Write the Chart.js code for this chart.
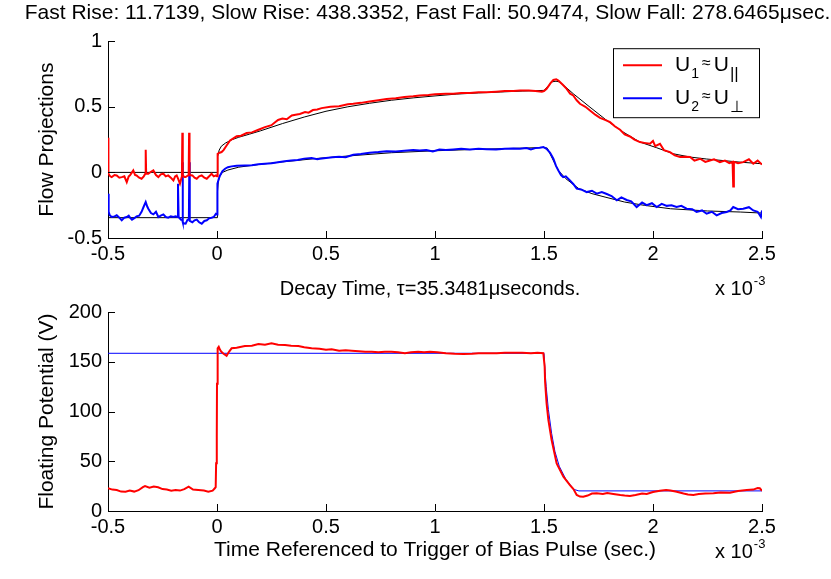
<!DOCTYPE html>
<html><head><meta charset="utf-8">
<script src="https://cdn.jsdelivr.net/npm/chart.js@4.4.0/dist/chart.umd.min.js"></script>
<style>
html,body{margin:0;padding:0;background:#fff;width:831px;height:579px;overflow:hidden;}
canvas{position:absolute;left:0;}
#c1{top:0}
#c2{top:265px}
</style></head><body>
<canvas id="c1" width="831" height="300"></canvas>
<canvas id="c2" width="831" height="314"></canvas>
<script>
// ---------- DATA ----------
const topTitle = 'Fast Rise: 11.7139, Slow Rise: 438.3352, Fast Fall: 50.9474, Slow Fall: 278.6465\u03bcsec.';
const bottomTitle = 'Decay Time, \u03c4=35.3481\u03bcseconds.';
const xTicks = [-0.5, 0, 0.5, 1, 1.5, 2, 2.5];
const yTicksTop = [-0.5, 0, 0.5, 1];
const yTicksBottom = [0, 50, 100, 150, 200];

// U1 ~ U_parallel (red)
const tU1 = [-0.5,-0.498,-0.49,-0.483,-0.47,-0.46,-0.448,-0.437,-0.425,-0.414,-0.405,-0.399,-0.39,-0.384,-0.376,-0.369,-0.357,-0.346,-0.336,-0.329,-0.327,-0.325,-0.315,-0.303,-0.292,-0.28,-0.269,-0.258,-0.246,-0.235,-0.224,-0.212,-0.2,-0.192,-0.185,-0.178,-0.17,-0.161,-0.159,-0.157,-0.15,-0.144,-0.13,-0.128,-0.126,-0.113,-0.103,-0.093,-0.082,-0.07,-0.058,-0.047,-0.036,-0.025,-0.015,-0.005,0,
 0.003,0.012,0.021,0.03,0.044,0.06,0.075,0.09,0.11,0.136,0.16,0.19,0.22,0.25,0.265,0.28,0.3,0.32,0.343,0.36,0.38,0.404,0.42,0.44,0.46,0.48,0.52,0.56,0.6,0.625,0.66,0.7,0.74,0.778,0.82,0.86,0.9,0.93,0.97,1.0,1.05,1.084,1.12,1.16,1.2,1.237,1.28,1.32,1.36,1.39,1.43,1.46,1.49,1.5,
 1.512,1.53,1.543,1.556,1.566,1.585,1.604,1.62,1.634,1.65,1.665,1.69,1.711,1.735,1.757,1.78,1.803,1.826,1.849,1.87,1.894,1.915,1.94,1.96,1.986,2.0,2.01,2.032,2.05,2.078,2.1,2.124,2.15,2.17,2.19,2.216,2.24,2.261,2.28,2.307,2.33,2.35,2.365,2.368,2.371,2.39,2.414,2.44,2.46,2.48,2.5];
const vU1 = [0.264,-0.01,-0.03,-0.036,-0.02,-0.023,-0.04,-0.036,-0.03,-0.074,-0.03,-0.023,0.0,0.015,-0.02,-0.023,-0.04,-0.048,-0.03,-0.01,0.173,-0.01,-0.01,0.005,0.015,-0.02,-0.036,-0.015,-0.01,-0.03,-0.023,-0.04,-0.061,-0.03,-0.023,-0.05,-0.086,-0.03,0.302,-0.02,-0.036,-0.036,-0.02,0.302,-0.02,-0.023,-0.04,-0.048,-0.03,-0.023,-0.04,-0.048,-0.03,-0.01,-0.03,-0.023,-0.03,
 0.142,0.15,0.155,0.17,0.205,0.244,0.26,0.275,0.28,0.3,0.305,0.325,0.345,0.36,0.38,0.4,0.41,0.405,0.434,0.44,0.445,0.46,0.455,0.475,0.48,0.49,0.5,0.505,0.52,0.523,0.53,0.54,0.55,0.56,0.565,0.575,0.58,0.586,0.59,0.595,0.6,0.6,0.605,0.605,0.61,0.61,0.615,0.62,0.62,0.624,0.625,0.62,0.615,0.62,
 0.637,0.68,0.705,0.71,0.7,0.67,0.637,0.6,0.586,0.55,0.523,0.5,0.472,0.44,0.416,0.4,0.383,0.35,0.325,0.29,0.274,0.25,0.231,0.225,0.218,0.24,0.2,0.218,0.17,0.155,0.13,0.117,0.12,0.117,0.09,0.104,0.08,0.091,0.1,0.078,0.09,0.07,0.08,-0.107,0.08,0.07,0.078,0.1,0.066,0.09,0.06];

// U2 ~ U_perp (blue)
const tU2 = [-0.5,-0.497,-0.492,-0.483,-0.47,-0.46,-0.448,-0.437,-0.425,-0.414,-0.405,-0.399,-0.39,-0.376,-0.369,-0.357,-0.346,-0.336,-0.327,-0.32,-0.315,-0.303,-0.292,-0.28,-0.269,-0.258,-0.246,-0.235,-0.224,-0.212,-0.2,-0.19,-0.182,-0.179,-0.176,-0.165,-0.16,-0.158,-0.156,-0.15,-0.144,-0.135,-0.129,-0.127,-0.125,-0.113,-0.103,-0.093,-0.082,-0.07,-0.058,-0.047,-0.036,-0.025,-0.015,-0.005,0,
 0.002,0.008,0.014,0.025,0.037,0.05,0.067,0.09,0.128,0.16,0.19,0.22,0.25,0.28,0.31,0.34,0.37,0.4,0.434,0.46,0.472,0.5,0.53,0.56,0.59,0.625,0.66,0.7,0.74,0.778,0.82,0.86,0.9,0.93,0.96,0.99,1.02,1.05,1.084,1.12,1.16,1.2,1.237,1.28,1.32,1.36,1.39,1.42,1.44,1.46,1.48,1.497,
 1.512,1.528,1.543,1.555,1.566,1.578,1.588,1.6,1.619,1.635,1.65,1.67,1.696,1.72,1.742,1.765,1.788,1.81,1.834,1.855,1.879,1.9,1.925,1.95,1.971,1.995,2.017,2.04,2.063,2.085,2.108,2.13,2.154,2.18,2.2,2.225,2.246,2.27,2.292,2.315,2.338,2.355,2.368,2.39,2.414,2.44,2.46,2.48,2.495,2.5];
const vU2 = [-0.162,-0.3,-0.327,-0.34,-0.335,-0.327,-0.345,-0.365,-0.345,-0.34,-0.33,-0.345,-0.36,-0.345,-0.335,-0.33,-0.301,-0.26,-0.226,-0.26,-0.277,-0.31,-0.32,-0.3,-0.34,-0.33,-0.32,-0.34,-0.345,-0.335,-0.34,-0.335,-0.34,-0.086,-0.34,-0.36,-0.36,0.078,-0.38,-0.39,-0.391,-0.36,-0.36,0.078,-0.37,-0.38,-0.365,-0.36,-0.38,-0.391,-0.37,-0.365,-0.35,-0.345,-0.34,-0.315,-0.32,
 -0.086,-0.05,-0.023,0.01,0.028,0.04,0.046,0.05,0.053,0.055,0.062,0.066,0.07,0.078,0.085,0.09,0.095,0.105,0.11,0.1,0.104,0.11,0.115,0.12,0.115,0.135,0.14,0.15,0.155,0.162,0.16,0.165,0.17,0.167,0.17,0.16,0.175,0.17,0.175,0.18,0.175,0.18,0.177,0.175,0.18,0.182,0.18,0.185,0.175,0.185,0.188,0.193,
 0.18,0.15,0.104,0.05,0.015,-0.02,-0.036,-0.03,-0.061,-0.09,-0.124,-0.13,-0.15,-0.14,-0.162,-0.15,-0.165,-0.18,-0.213,-0.19,-0.21,-0.22,-0.264,-0.23,-0.25,-0.235,-0.264,-0.24,-0.255,-0.25,-0.264,-0.255,-0.277,-0.28,-0.302,-0.29,-0.315,-0.3,-0.327,-0.31,-0.302,-0.29,-0.264,-0.28,-0.277,-0.265,-0.29,-0.3,-0.34,-0.29];

// fitted curves (black)
const tFit1 = [-0.5,0,0.003,0.01,0.02,0.04,0.07,0.1,0.15,0.2,0.3,0.4,0.5,0.6,0.7,0.8,0.9,1.0,1.1,1.2,1.3,1.4,1.5,1.52,1.535,1.555,1.57,1.6,1.634,1.711,1.788,1.864,1.94,2.017,2.093,2.17,2.246,2.4,2.5];
const vFit1 = [0,0,0.12,0.17,0.2,0.225,0.25,0.268,0.292,0.317,0.372,0.422,0.466,0.5,0.527,0.55,0.568,0.583,0.597,0.606,0.613,0.62,0.625,0.66,0.69,0.695,0.69,0.65,0.6,0.497,0.396,0.307,0.231,0.188,0.142,0.117,0.102,0.078,0.066];
const tFit2 = [-0.5,0,0.002,0.006,0.012,0.025,0.05,0.1,0.2,0.3,0.45,0.6,0.8,1.0,1.2,1.4,1.5,1.515,1.543,1.566,1.6,1.66,1.72,1.78,1.87,1.96,2.08,2.25,2.4,2.5];
const vFit2 = [-0.345,-0.345,-0.15,-0.07,-0.03,0.0,0.018,0.04,0.062,0.08,0.105,0.125,0.15,0.165,0.176,0.185,0.19,0.185,0.09,0.015,-0.048,-0.124,-0.162,-0.188,-0.226,-0.251,-0.277,-0.294,-0.302,-0.31];

// floating potential (red) and exponential fit (blue)
const tVf = [-0.5,-0.48,-0.46,-0.44,-0.42,-0.4,-0.38,-0.36,-0.34,-0.33,-0.31,-0.29,-0.27,-0.25,-0.23,-0.21,-0.19,-0.17,-0.15,-0.13,-0.11,-0.086,-0.06,-0.04,-0.02,-0.01,-0.006,-0.004,-0.001,0.0,0.003,0.008,0.014,0.02,0.03,0.044,0.055,0.067,0.09,0.128,0.16,0.19,0.22,0.25,0.28,0.312,0.34,0.373,0.4,0.434,0.47,0.5,0.526,0.56,0.59,0.618,0.65,0.68,0.71,0.74,0.77,0.8,0.83,0.862,0.89,0.923,0.95,0.977,1.01,1.05,1.09,1.13,1.17,1.2,1.24,1.283,1.32,1.36,1.4,1.44,1.47,1.497,1.503,1.505,1.512,1.52,1.535,1.558,1.589,1.619,1.635,1.65,1.665,1.68,1.7,1.72,1.742,1.77,1.79,1.818,1.85,1.87,1.894,1.92,1.95,1.971,2.0,2.032,2.06,2.08,2.109,2.14,2.16,2.185,2.21,2.24,2.277,2.31,2.353,2.39,2.43,2.46,2.48,2.49,2.5];
const vVf = [22.8,21.5,21,19.5,19.4,20.5,19.5,20.9,24,25.1,23.5,24.5,23.8,22,21.5,20.4,21,20.5,22,24.5,21.5,21,20.5,19.4,20.5,22.8,24,48,75,128,163.5,165,162,160,158,156,160,163.5,164,165.8,166,167.8,167,168.5,167,166.8,166,165.8,164.5,163.5,163,162,162.5,161,161.5,161.1,160.5,160,160.1,159.5,160,160.1,159.5,158.5,159.5,160,159.5,160.1,159.5,158.5,158,157.8,158,158.5,158.5,158.5,159,159.1,159,158.5,159,158.5,145,130,108,91.5,71.4,47.9,34.5,26.1,22,16.1,14.5,14.4,15.5,17.5,17.8,17,18,17.1,16,15.5,15.1,16,17.5,17.1,19,20.4,21,20.5,19.4,17.5,16.5,16.1,17,17.5,17.8,18.5,18.4,20,21,21.5,23,22.8,20.4];
const tVfFit = [-0.5,1.5,1.505,1.51,1.52,1.535,1.55,1.57,1.6,1.625,1.64,1.66,2.5];
const vVfFit = [158.5,158.5,140,125,102,78,60,45,32,25,21.5,20.2,20.2];

// ---------- RENDERING ----------
const FONT = "'Liberation Sans', Arial, Helvetica, sans-serif";
Chart.defaults.font.family = FONT;
Chart.defaults.font.size = 20;
Chart.defaults.color = '#000';
function pts(t, v) { return t.map((x, i) => ({x: x, y: v[i]})); }
function fmt(v) { return String(Math.round(v * 100) / 100); }
function setTicks(arr) { return s => { s.ticks = arr.map(v => ({value: v})); }; }
const lineDs = (label, t, v, color, w) => ({label, data: pts(t, v), borderColor: color, borderWidth: w, pointRadius: 0, tension: 0, fill: false});

const matlabPlugin = {
  id: 'matlab',
  afterDraw(chart, args, opts) {
    const {ctx, chartArea: a, scales} = chart;
    const x = scales.x, y = scales.y;
    ctx.save();
    ctx.strokeStyle = '#000'; ctx.lineWidth = 1;
    ctx.beginPath();
    x.ticks.forEach(t => { const px = Math.round(x.getPixelForValue(t.value)) + 0.5; ctx.moveTo(px, a.bottom); ctx.lineTo(px, a.bottom - 7); });
    y.ticks.forEach(t => { const py = Math.round(y.getPixelForValue(t.value)) + 0.5; ctx.moveTo(a.left, py); ctx.lineTo(a.left + 7, py); });
    ctx.stroke();
    // exponent label
    ctx.fillStyle = '#000';
    ctx.textAlign = 'left'; ctx.textBaseline = 'alphabetic';
    ctx.font = '20px ' + FONT;
    const ex = a.right - 47, ey = a.bottom + opts.expDy;
    ctx.fillText('x 10', ex, ey);
    const w = ctx.measureText('x 10').width;
    ctx.font = '13px ' + FONT;
    ctx.fillText('-3', ex + w + 1, ey - 10);
    if (opts.legend) {
      const L = a.right - 149, T = a.top + 7, W = 146, H = 69;
      ctx.fillStyle = '#fff'; ctx.fillRect(L, T, W, H);
      ctx.strokeStyle = '#000'; ctx.lineWidth = 1; ctx.strokeRect(L + 0.5, T + 0.5, W, H);
      const rows = [{c: '#ff0000', s: '1', p: '||'}, {c: '#0000ff', s: '2', p: '\u22a5'}];
      rows.forEach((r, i) => {
        const ly = T + 17 + i * 33;
        ctx.strokeStyle = r.c; ctx.lineWidth = 2;
        ctx.beginPath(); ctx.moveTo(L + 10, ly); ctx.lineTo(L + 49, ly); ctx.stroke();
        ctx.fillStyle = '#000';
        let cx = L + 62; const base = ly + 6;
        ctx.font = '21px ' + FONT; ctx.fillText('U', cx, base); cx += ctx.measureText('U').width + 1;
        ctx.font = '14px ' + FONT; ctx.fillText(r.s, cx, base + 7); cx += ctx.measureText(r.s).width + 3;
        ctx.font = '16px ' + FONT; ctx.fillText('\u2248', cx, base - 3); cx += ctx.measureText('\u2248').width + 3;
        ctx.font = '21px ' + FONT; ctx.fillText('U', cx, base); cx += ctx.measureText('U').width + 1;
        ctx.font = (r.p === '||' ? '17px ' : '16px ') + FONT; ctx.fillText(r.p, cx, base + 8);
      });
    }
    ctx.restore();
  }
};

const tickFont = {family: FONT, size: 20};
const labelFont = {family: FONT, size: 21};
function xScale(h, titleText) {
  const s = {type: 'linear', min: -0.5, max: 2.5, position: 'bottom',
    afterBuildTicks: setTicks(xTicks),
    ticks: {callback: fmt, padding: 4, font: tickFont, color: '#000', maxRotation: 0, autoSkip: false},
    grid: {display: false, drawTicks: false},
    border: {display: true, color: '#000', width: 1},
    afterFit: sc => { sc.height = h; }};
  if (titleText) s.title = {display: true, text: titleText, font: labelFont, color: '#000', padding: {top: 0, bottom: 16}};
  return s;
}
function yScale(min, max, ticks, titleText, padLeft) {
  return {type: 'linear', min, max, position: 'left',
    afterBuildTicks: setTicks(ticks),
    ticks: {callback: fmt, padding: 6, font: tickFont, color: '#000', autoSkip: false},
    grid: {display: false, drawTicks: false},
    border: {display: true, color: '#000', width: 1},
    title: {display: true, text: titleText, font: labelFont, color: '#000', padding: {top: 35 - padLeft, bottom: 0}},
    afterFit: sc => { sc.width = 108 - padLeft; }};
}
const rightPad = {position: 'right', display: true, ticks: {display: false}, grid: {display: false, drawTicks: false}, border: {display: false}, afterFit: sc => { sc.width = 69; }};

new Chart(document.getElementById('c1'), {
  type: 'line',
  data: {datasets: [
    lineDs('U1', tU1, vU1, '#ff0000', 2),
    lineDs('U2', tU2, vU2, '#0000ff', 2),
    lineDs('fit1', tFit1, vFit1, '#000000', 1),
    lineDs('fit2', tFit2, vFit2, '#000000', 1)
  ]},
  options: {
    responsive: false, animation: false, devicePixelRatio: 1,
    layout: {padding: {left: 24, right: 0, top: 0, bottom: 0}},
    plugins: {
      legend: {display: false}, tooltip: {enabled: false},
      title: {display: true, text: topTitle, font: {family: FONT, size: 21, weight: 'normal'}, color: '#000', padding: {top: 1, bottom: 15}},
      matlab: {legend: true, expDy: 57}
    },
    scales: {x: xScale(62, null), y: yScale(-0.5, 1, yTicksTop, 'Flow Projections', 24), yR: rightPad}
  },
  plugins: [matlabPlugin]
});

new Chart(document.getElementById('c2'), {
  type: 'line',
  data: {datasets: [
    lineDs('Vf', tVf, vVf, '#ff0000', 2),
    lineDs('fit', tVfFit, vVfFit, '#0000ff', 1)
  ]},
  options: {
    responsive: false, animation: false, devicePixelRatio: 1,
    layout: {padding: {left: 29, right: 0, top: 0, bottom: 0}},
    plugins: {
      legend: {display: false}, tooltip: {enabled: false},
      title: {display: true, text: bottomTitle, font: {family: FONT, size: 20, weight: 'normal'}, color: '#000', padding: {top: 12, bottom: 11}},
      matlab: {legend: false, expDy: 47}
    },
    scales: {x: xScale(68, 'Time Referenced to Trigger of Bias Pulse (sec.)'), y: yScale(0, 200, yTicksBottom, 'Floating Potential (V)', 29), yR: rightPad}
  },
  plugins: [matlabPlugin]
});
</script>
</body></html>
